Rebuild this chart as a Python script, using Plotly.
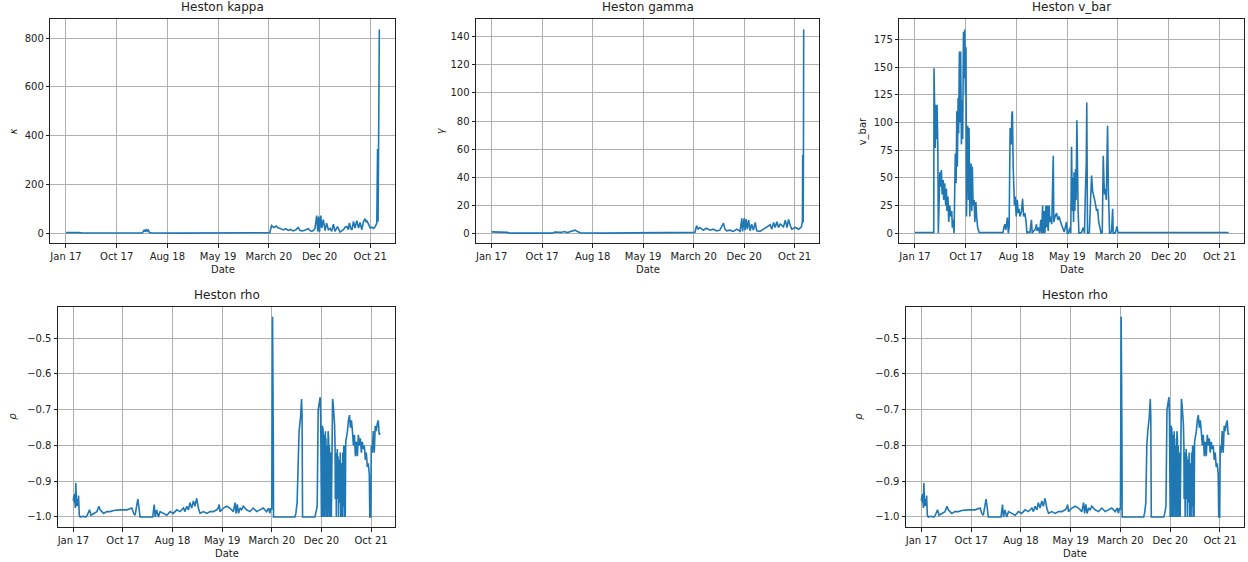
import plotly.graph_objects as go

# ---------------------------------------------------------------- data
# x values are trading-day indices (0 = Jan 2017); the axis is labelled
# every 200 days with the matching month.
tick_days = [0, 200, 400, 600, 800, 1000, 1200]
tick_labels = ["Jan 17", "Oct 17", "Aug 18", "May 19", "March 20", "Dec 20", "Oct 21"]

kappa_day = [0, 10, 30, 50, 62, 80, 150, 250, 300, 305, 309, 312, 316, 320, 324, 329, 335,
             450, 600, 700, 798, 804, 811, 820, 830, 837, 846, 857, 867, 877, 886, 896, 907,
             916, 923, 933, 944, 956, 962, 969, 976, 982, 989, 993, 997, 1000, 1005, 1009,
             1015, 1022, 1028, 1035, 1042, 1048, 1055, 1061, 1071, 1081, 1094, 1101, 1108,
             1114, 1118, 1123, 1128, 1134, 1140, 1147, 1154, 1160, 1167, 1174, 1180, 1184,
             1187, 1193, 1200, 1207, 1213, 1220, 1226, 1229, 1231, 1233, 1236]
kappa_val = [3, 3.5, 3, 3.5, 2, 1.2, 1.2, 1.2, 1.2, 8, 14, 7, 15, 9, 16, 4, 1.2,
             1, 1, 1, 1, 3, 32, 24, 30, 22, 20, 14, 19, 12, 16, 10, 15,
             24, 12, 10, 14, 19, 12, 8, 12, 19, 73, 8, 69, 5, 73, 22,
             56, 11, 42, 15, 20, 8, 38, 8, 28, 5, 15, 25, 28,
             15, 43, 22, 14, 49, 22, 52, 22, 45, 15, 49, 60, 45,
             52, 35, 22, 25, 20, 28, 42, 345, 48, 345, 835]

gamma_day = [0, 20, 40, 62, 70, 150, 240, 250, 262, 275, 288, 300, 310, 320, 330, 340, 352,
             450, 600, 700, 800, 805, 812, 818, 825, 838, 851, 865, 878, 891, 904, 918, 924,
             931, 944, 957, 971, 984, 991, 994, 1000, 1004, 1008, 1013, 1018, 1024, 1030,
             1037, 1044, 1050, 1063, 1077, 1090, 1103, 1110, 1117, 1123, 1130, 1136, 1143,
             1156, 1163, 1170, 1176, 1183, 1189, 1203, 1216, 1227, 1231, 1232, 1234, 1235,
             1236]
gamma_val = [1.4, 1.3, 1.4, 1.0, 0.5, 0.5, 0.5, 1.3, 0.9, 1.0, 1.6, 0.9, 1.5, 2.2, 2.6, 1.6, 0.6,
             0.5, 0.5, 0.5, 0.5, 1.0, 5.7, 3.3, 4.5, 2.6, 4.0, 2.6, 3.3, 2.1, 2.6, 7.6, 3.3,
             2.1, 2.6, 1.7, 3.3, 1.7, 11, 1.7, 11, 2.6, 10.5, 3.3, 9.7, 2.1, 6.9,
             2.6, 8.1, 2.1, 1.7, 3.3, 4.5, 6.4, 3.3, 8.1, 4.5, 8.6, 4.5, 6.9,
             5.0, 9.7, 4.5, 10.2, 5.7, 3.3, 4.5, 3.3, 5.0, 9.3, 56, 8, 56,
             145]

vbar_day = [0, 74, 75, 78, 80, 83, 86, 87, 90, 92, 95, 98, 100, 104, 107, 111, 113, 117, 121,
            124, 126, 130, 133, 137, 141, 145, 147, 150, 154, 157, 159, 162, 165, 167, 170,
            172, 175, 178, 180, 183, 186, 188, 191, 194, 196, 199, 201, 203, 205, 208, 211,
            213, 216, 218, 221, 224, 226, 229, 233, 236, 240, 243, 247, 253, 347, 350, 354,
            358, 361, 364, 368, 371, 375, 379, 382, 384, 387, 389, 392, 395, 399, 403, 407,
            410, 414, 420, 424, 428, 433, 438, 441, 446, 453, 459, 462, 468, 475, 479, 481,
            487, 491, 496, 499, 503, 505, 509, 512, 516, 518, 522, 525, 529, 531, 535, 539,
            545, 547, 552, 558, 563, 568, 574, 577, 584, 588, 592, 597, 600, 605, 610, 614,
            617, 620, 622, 625, 627, 630, 633, 635, 638, 641, 643, 646, 656, 663, 668, 672,
            675, 677, 680, 683, 687, 692, 696, 700, 704, 708, 712, 716, 720, 724, 729, 733,
            738, 742, 745, 747, 750, 754, 756, 759, 762, 764, 767, 771, 775, 779, 781, 788,
            792, 796, 800, 1236]
vbar_val = [0.5, 0.5, 149, 120, 77, 116, 85, 116, 78, 0, 40, 55, 42, 57, 35, 48, 30, 45, 25,
            40, 20, 33, 10, 25, 15, 20, 5, 12, 0, 48, 72, 45, 110, 60, 122,
            90, 164, 100, 164, 80, 120, 85, 182, 140, 184, 125, 168, 15, 60, 97, 30,
            95, 15, 45, 63, 20, 60, 25, 30, 10, 28, 15, 5, 0.5, 0.5, 5, 8,
            3, 12, 14, 0, 5, 95, 80, 108, 110, 60, 35, 25, 33, 15, 30, 18,
            22, 15, 20, 31, 15, 18, 10, 0, 1, 0.5, 12, 0, 2, 4, 8, 2,
            5, 0, 12, 0, 25, 0, 20, 0, 25, 5, 25, 2, 25, 10, 15, 8,
            70, 10, 15, 18, 12, 15, 10, 8, 5, 1, 5, 10, 0, 0, 5, 0,
            78, 20, 50, 10, 55, 20, 58, 30, 102, 25, 20, 0, 0.5, 5, 0, 40,
            62, 118, 0, 0, 0.5, 30, 52, 38, 35, 30, 25, 20, 22, 10, 5, 0,
            0.5, 70, 45, 35, 40, 30, 60, 97, 40, 25, 0, 0, 2, 22, 0, 0,
            2, 6, 0.5, 0.5]

rho_day = [
    0, 2, 4, 5, 8, 10, 13, 15, 18, 21, 24, 28, 40, 50, 56, 62, 65, 71, 81, 95,
    103, 108, 122, 135, 149, 162, 189, 216, 236, 243, 249, 256, 260, 264, 269, 300,
    320, 326, 330, 336, 343, 350, 363, 377, 390, 403, 417, 430, 444, 450, 457, 464,
    470, 477, 484, 490, 497, 504, 511, 524, 538, 551, 564, 578, 584, 588, 591, 605,
    618, 631, 645, 652, 656, 661, 666, 672, 678, 685, 698, 712, 725, 739, 752, 765,
    779, 787, 792, 796, 800, 803, 806, 807, 893, 897, 902, 906, 910, 916, 920, 922,
    924, 974, 978, 983, 987, 991, 995, 997, 998, 999, 1000, 1002, 1003, 1004, 1005,
    1006, 1008, 1009, 1010, 1012, 1013, 1014, 1016, 1017, 1018, 1019, 1020, 1022,
    1023, 1024, 1026, 1027, 1028, 1029, 1031, 1032, 1034, 1035, 1037, 1038, 1040,
    1042, 1044, 1045, 1047, 1049, 1051, 1053, 1055, 1056, 1057, 1059, 1060, 1061,
    1063, 1064, 1066, 1067, 1069, 1070, 1072, 1074, 1076, 1078, 1080, 1082, 1084,
    1086, 1088, 1090, 1092, 1094, 1096, 1098, 1101, 1105, 1109, 1113, 1117, 1121,
    1125, 1129, 1133, 1137, 1141, 1145, 1149, 1153, 1157, 1161, 1165, 1169, 1173,
    1177, 1181, 1185, 1189, 1193, 1195, 1199, 1201, 1205, 1209, 1213, 1217, 1221,
    1225, 1229, 1233, 1236]
rho_val = [
    -0.955, -0.94, -0.96, -0.935, -0.975, -0.905, -0.97, -0.95, -0.97, -0.94, -0.995,
    -1.0, -0.998, -1.0, -0.995, -0.985, -0.98, -0.995, -0.99, -0.985,
    -0.97, -0.98, -0.99, -0.985, -0.985, -0.982, -0.98, -0.98, -0.975, -0.99, -0.995,
    -0.965, -0.95, -0.97, -1.0, -1.0,
    -1.0, -0.965, -1.0, -0.98, -1.0, -0.985, -0.99, -0.995, -0.985, -0.99, -0.98,
    -0.985, -0.975, -0.985, -0.97, -0.98,
    -0.96, -0.975, -0.955, -0.97, -0.948, -0.975, -0.99, -0.985, -0.99, -0.985, -0.985,
    -0.98, -0.975, -0.965, -0.985, -0.975,
    -0.97, -0.975, -0.985, -0.96, -0.99, -0.965, -0.99, -0.975, -0.98, -0.97, -0.98,
    -0.985, -0.975, -0.985, -0.98, -0.975,
    -0.985, -0.975, -0.99, -0.975, -0.98, -0.44, -0.78, -1.0, -1.0, -0.99, -0.96, -0.8,
    -0.76, -0.72, -0.67, -0.72,
    -1.0, -1.0, -0.99, -0.97, -0.7, -0.68, -0.665, -0.72, -1.0, -0.78, -1.0, -0.75,
    -0.9, -0.745, -1.0,
    -0.75, -0.78, -1.0, -0.77, -0.78, -1.0, -0.8, -0.76, -0.95, -0.78, -0.82, -1.0,
    -0.8,
    -0.85, -1.0, -0.82, -0.76, -0.9, -0.78, -1.0, -0.8, -0.85, -1.0, -0.82, -0.86,
    -1.0,
    -0.8, -0.72, -0.67, -0.68, -0.7, -0.72, -0.74, -0.8, -0.95, -0.82, -0.84, -1.0,
    -0.85,
    -0.9, -0.81, -0.95, -0.83, -1.0, -0.84, -0.88, -0.96, -0.82, -1.0, -0.85, -0.96,
    -1.0,
    -0.82, -0.97, -0.8, -1.0, -0.8, -1.0, -0.79, -0.78, -0.76, -0.73, -0.715, -0.75,
    -0.73,
    -0.76, -0.8, -0.77, -0.83, -0.79, -0.83, -0.77, -0.8, -0.78, -0.82, -0.79, -0.81,
    -0.8,
    -0.84, -0.82, -0.86, -0.85, -0.88, -1.0, -1.0, -0.8, -0.82, -0.76, -0.82, -0.745,
    -0.76,
    -0.74, -0.73, -0.77, -0.765]

# ---------------------------------------------------------------- layout
W, H = 1248, 562
FONT = "DejaVu Sans"
LINE = "#1f77b4"
INK = "#222222"

# panel boxes in pixels: (left, top, right, bottom)
panels = [
    dict(title="Heston kappa", ylabel="<i>κ</i>", x=kappa_day, y=kappa_val,
         box=(50.3, 19.3, 395.0, 243.3), yticks=[0, 200, 400, 600, 800], fmt="d", ylab_x=13),
    dict(title="Heston gamma", ylabel="<i>γ</i>", x=gamma_day, y=gamma_val,
         box=(476.0, 19.3, 819.3, 243.3), yticks=list(range(0, 141, 20)), fmt="d", ylab_x=440),
    dict(title="Heston v_bar", ylabel="v_bar", x=vbar_day, y=vbar_val,
         box=(899.3, 19.3, 1244.3, 243.3), yticks=list(range(0, 176, 25)), fmt="d", ylab_x=863),
    dict(title="Heston rho", ylabel="<i>ρ</i>", x=rho_day, y=rho_val,
         box=(58.0, 306.7, 395.3, 527.0), yticks=[-1.0, -0.9, -0.8, -0.7, -0.6, -0.5],
         fmt=".1f", ylab_x=13),
    dict(title="Heston rho", ylabel="<i>ρ</i>", x=rho_day, y=rho_val,
         box=(906.0, 306.7, 1244.3, 527.0), yticks=[-1.0, -0.9, -0.8, -0.7, -0.6, -0.5],
         fmt=".1f", ylab_x=859),
]

fig = go.Figure()
annotations = []
layout = {}

for i, p in enumerate(panels, start=1):
    suffix = "" if i == 1 else str(i)
    xa, ya = "x" + suffix, "y" + suffix
    left, top, right, bottom = p["box"]

    fig.add_trace(go.Scatter(x=p["x"], y=p["y"], mode="lines",
                             line=dict(color=LINE, width=1.6),
                             xaxis=xa, yaxis=ya, showlegend=False, hoverinfo="skip"))

    # matplotlib-style autoscale: 5 % padding around the data limits
    xmin, xmax = min(p["x"]), max(p["x"])
    ymin, ymax = min(p["y"]), max(p["y"])
    xpad, ypad = 0.05 * (xmax - xmin), 0.05 * (ymax - ymin)

    common = dict(showgrid=True, gridcolor="#b0b0b0", gridwidth=0.8, zeroline=False,
                  showline=True, mirror=True, linecolor=INK, linewidth=1,
                  ticks="outside", ticklen=3.5, tickwidth=0.8, tickcolor=INK,
                  tickfont=dict(family=FONT, size=10, color=INK))
    layout["xaxis" + suffix] = dict(common, domain=[left / W, right / W],
                                    range=[xmin - xpad, xmax + xpad], anchor=ya,
                                    tickmode="array", tickvals=tick_days, ticktext=tick_labels)
    layout["yaxis" + suffix] = dict(common, domain=[1 - bottom / H, 1 - top / H],
                                    range=[ymin - ypad, ymax + ypad], anchor=xa,
                                    tickmode="array", tickvals=p["yticks"], tickformat=p["fmt"])

    cx = (left + right) / 2 / W
    annotations.append(dict(text=p["title"], x=cx, y=1 - top / H, xref="paper", yref="paper",
                            xanchor="center", yanchor="bottom", yshift=3, showarrow=False,
                            font=dict(family=FONT, size=12, color=INK)))
    annotations.append(dict(text="Date", x=cx, y=1 - (bottom + 26) / H, xref="paper",
                            yref="paper", xanchor="center", yanchor="middle", showarrow=False,
                            font=dict(family=FONT, size=10, color=INK)))
    annotations.append(dict(text=p["ylabel"], x=p["ylab_x"] / W, y=1 - (top + bottom) / 2 / H,
                            xref="paper", yref="paper", xanchor="center", yanchor="middle",
                            textangle=-90, showarrow=False,
                            font=dict(family=FONT, size=10, color=INK)))

fig.update_layout(width=W, height=H, margin=dict(l=0, r=0, t=0, b=0),
                  paper_bgcolor="white", plot_bgcolor="white",
                  annotations=annotations, **layout)

fig.write_html("out.html")
